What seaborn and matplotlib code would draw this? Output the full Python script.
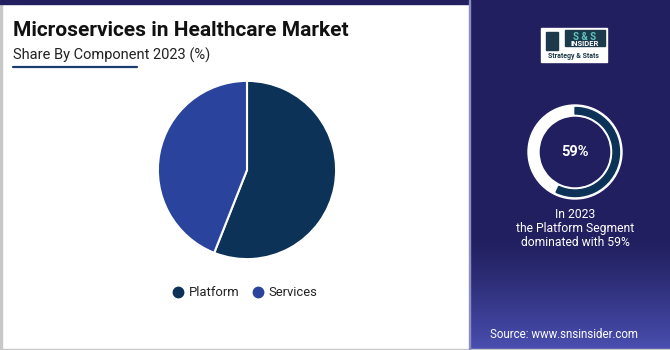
import numpy as np
import matplotlib
matplotlib.use("Agg")
import matplotlib.pyplot as plt
from matplotlib.patches import Rectangle, Wedge
from matplotlib.lines import Line2D
import seaborn as sns

# ---- data ----
categories = ["Platform", "Services"]
shares = [56, 44]
colors = ["#0c3357", "#2a439c"]
title = "Microservices in Healthcare Market"
subtitle = "Share By Component 2023 (%)"
highlight_label = "59%"
ring_share = 57
highlight_text = ["In 2023", "the Platform Segment", "dominated with 59%"]
source = "Source: www.snsinsider.com"

sns.set_style("white")
plt.rcParams["font.family"] = ["Roboto", "DejaVu Sans"]

W, H = 670, 350
fig = plt.figure(figsize=(W / 100, H / 100), dpi=100)
fig.patch.set_facecolor("white")


def fx(x):
    return x / W


def fy(y):
    return 1 - y / H


navy = "#211f5f"
fig.patches.append(Rectangle((0, 0), fx(1.5), 1, transform=fig.transFigure, color="#c8c8c8", zorder=0))
fig.patches.append(Rectangle((0, fy(4)), 1, fy(0) - fy(4), transform=fig.transFigure, color=navy, zorder=1))
fig.patches.append(Rectangle((0, 0), 1, 1.5 / H, transform=fig.transFigure, color="#c8c8c8", zorder=1))

# right panel with gradient
pax = fig.add_axes([fx(469), 0, 1 - fx(469), 1])
pax.set_axis_off()
grad = np.linspace(0, 1, 350)[:, None]
top_c = np.array(matplotlib.colors.to_rgb(navy))
bot_c = np.array(matplotlib.colors.to_rgb("#4a4fb0"))
t = np.clip((grad - 0.68) / 0.32, 0, 1) ** 1.2
img = top_c * (1 - t[..., None]) + bot_c * t[..., None]
img = np.repeat(img, 10, axis=1)
pax.imshow(img, aspect="auto", extent=[0, 1, 0, 1], origin="upper")
pax.set_xlim(0, 1)
pax.set_ylim(0, 1)
fig.patches.append(Rectangle((fx(469), 0), fx(1), 1, transform=fig.transFigure, color="#8a8fc0", zorder=3))

# title
fig.text(fx(13), fy(30), title, fontsize=15.0, fontweight="bold", color="#111111", va="center", ha="left")
fig.text(fx(13), fy(55), subtitle, fontsize=10.5, color="#222222", va="center", ha="left")
fig.lines.append(Line2D([fx(13), fx(137)], [fy(67), fy(67)], transform=fig.transFigure, color="#1d3d6e", lw=1.6))

# pie
cx, cy, r = 247, 170, 90
ax = fig.add_axes([fx(cx - r), fy(cy + r), 2 * r / W, 2 * r / H])
ax.pie(shares, colors=colors, startangle=90, counterclock=False,
       wedgeprops=dict(edgecolor="white", linewidth=1.5), radius=1)
ax.set_xlim(-1.01, 1.01)
ax.set_ylim(-1.01, 1.01)
ax.set_aspect("equal")

# legend
handles = [Line2D([0], [0], marker="o", linestyle="", markersize=7.5,
                  markerfacecolor=c, markeredgecolor=c) for c in colors]
fig.legend(handles, categories, loc="center", bbox_to_anchor=(fx(243), fy(293)), ncol=2,
           frameon=False, fontsize=9.4, handletextpad=0.1, columnspacing=0.6,
           handlelength=1.5, labelcolor="#222222")

# ring
rcx, rcy, rr = 575, 152, 47
rax = fig.add_axes([fx(rcx - rr - 2), fy(rcy + rr + 2), (2 * rr + 4) / W, (2 * rr + 4) / H])
rax.set_axis_off()
rax.set_xlim(-rr - 2, rr + 2)
rax.set_ylim(-rr - 2, rr + 2)
rax.set_aspect("equal")
rax.add_patch(Wedge((0, 0), rr, 0, 360, width=11, color="white"))
ang = 360 * ring_share / 100
rax.add_patch(Wedge((0, 0), rr - 2.5, 90 - ang, 90, width=6.5, color="#0c3357"))
fig.text(fx(rcx), fy(rcy), highlight_label, fontsize=10.5, fontweight="bold",
         color="white", ha="center", va="center")

for i, line in enumerate(highlight_text):
    fig.text(fx(575), fy(215 + 13.5 * i), line, fontsize=8.7, color="white", ha="center", va="center")

fig.text(fx(564), fy(334), source, fontsize=8.3, color="white", ha="center", va="center")

# logo
lx0, ly0, lx1, ly1 = 541, 28, 607, 62
fig.patches.append(Rectangle((fx(lx0), fy(ly1)), fx(lx1 - lx0), (ly1 - ly0) / H,
                             transform=fig.transFigure, color="white", zorder=5))
fig.patches.append(Rectangle((fx(565), fy(46)), fx(40), 16 / H,
                             transform=fig.transFigure, color="#1d3a4a", zorder=6))
fig.text(fx(585), fy(37), "S & S", fontsize=7, fontweight="bold", color="#5fc6c0",
         ha="center", va="center", zorder=7)
fig.text(fx(585), fy(44), "INSIDER", fontsize=5.5, fontweight="bold", color="white",
         ha="center", va="center", zorder=7)
fig.text(fx(574), fy(56), "Strategy & Stats", fontsize=5, fontweight="bold", color="#1d3a4a",
         ha="center", va="center", zorder=7)
fig.patches.append(Rectangle((fx(546), fy(50)), fx(12), 18 / H,
                             transform=fig.transFigure, color="#1d3a4a", zorder=6))

fig.savefig("out.png", dpi=100, facecolor="white")
